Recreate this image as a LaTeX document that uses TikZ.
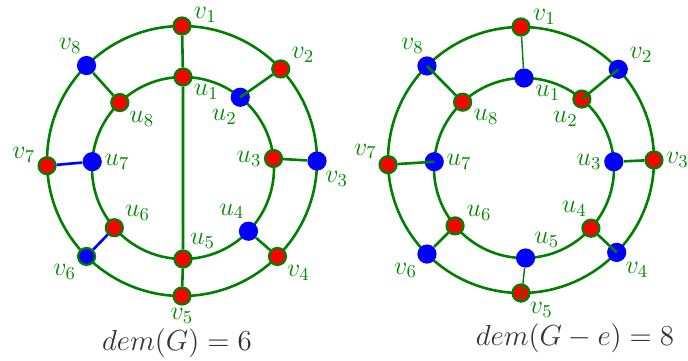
\RequirePackage{fix-cm}
\documentclass[tikz,border=0pt]{standalone}
\usepackage{amsmath}
\usetikzlibrary{calc}

\tikzset{
  rnode/.style={circle,fill=red,draw=green!50!black,line width=1.1pt,minimum size=8.5pt,inner sep=0pt},
  bnode/.style={circle,fill=blue,minimum size=9.6pt,inner sep=0pt},
  bgnode/.style={circle,fill=blue,draw=green!50!black,line width=1.1pt,minimum size=8.5pt,inner sep=0pt},
  lab/.style={text=green!55!black,font=\fontsize{13}{15}\selectfont,inner sep=1pt},
  ring/.style={draw=green!50!black,line width=1.3pt},
  gedge/.style={draw=green!50!black,line width=1.3pt},
  bedge/.style={draw=blue,line width=1.3pt},
  thinedge/.style={draw=green!50!black,line width=0.7pt},
  caption/.style={text=black!80,font=\fontsize{14.5}{17}\selectfont}
}

\begin{document}
\begin{tikzpicture}[x=0.5pt,y=-0.5pt,every label/.style={lab},label distance=0pt]
\useasboundingbox (0,0) rectangle (688,360);
% left graph G
\coordinate (cl) at (182,161);
\coordinate (cli) at (183,168);
\draw[ring] (cl) circle [radius=67.5pt];
\draw[ring] (cli) circle [radius=45.5pt];
\node[rnode,label={5:$v_1$}] (lv1) at ($(cl)+(-90:135)$) {};
\node[rnode,label={28:$v_2$}] (lv2) at ($(cl)+(-43:135)$) {};
\node[bnode,label={-53:$v_3$}] (lv3) at ($(cl)+(0:135)$) {};
\node[rnode,label={-41:$v_4$}] (lv4) at ($(cl)+(45:135)$) {};
\node[rnode,label={-90:$v_5$}] (lv5) at ($(cl)+(90:135)$) {};
\node[bgnode,label={-147:$v_6$}] (lv6) at ($(cl)+(135:135)$) {};
\node[rnode,label={175:$v_7$}] (lv7) at ($(cl)+(178:135)$) {};
\node[bnode,label={105:$v_8$}] (lv8) at ($(cl)+(225:135)$) {};
\node[rnode,label={-28:$u_1$}] (lu1) at ($(cli)+(-90:91)$) {};
\node[bnode,label={-96:$u_2$}] (lu2) at ($(cli)+(-51:91)$) {};
\node[rnode,label={180:$u_3$}] (lu3) at ($(cli)+(-6:91)$) {};
\node[bnode,label={100:$u_4$}] (lu4) at ($(cli)+(44:91)$) {};
\node[rnode,label={60:$u_5$}] (lu5) at ($(cli)+(90:91)$) {};
\node[rnode,label={29:$u_6$}] (lu6) at ($(cli)+(139:91)$) {};
\node[bnode,label={0:$u_7$}] (lu7) at ($(cli)+(184:91)$) {};
\node[rnode,label={-42:$u_8$}] (lu8) at ($(cli)+(226:91)$) {};
\draw[gedge] (lv1) -- (lu1) -- (lu5) -- (lv5);
\draw[gedge] (lv2) -- (lu2.center);
\draw[gedge] (lv3) -- (lu3);
\draw[gedge] (lv4) -- (lu4);
\draw[bedge] (lv6) -- (lu6);
\draw[bedge] (lv7) -- (lu7);
\draw[gedge] (lv8) -- (lu8);
\node[caption] (capl) at (177,343) {$dem(G)=6$};
% right graph G-e
\coordinate (cr) at (521,160);
\coordinate (cri) at (524,168);
\draw[ring] (cr) circle [radius=66.5pt];
\draw[ring] (cri) circle [radius=45pt];
\node[rnode,label={3:$v_1$}] (rv1) at ($(cr)+(-90:133)$) {};
\node[bnode,label={25:$v_2$}] (rv2) at ($(cr)+(-43:133)$) {};
\node[rnode,label={0:$v_3$}] (rv3) at ($(cr)+(0:133)$) {};
\node[bnode,label={-50:$v_4$}] (rv4) at ($(cr)+(44:133)$) {};
\node[rnode,label={-47:$v_5$}] (rv5) at ($(cr)+(90:133)$) {};
\node[bnode,label={-140:$v_6$}] (rv6) at ($(cr)+(135:133)$) {};
\node[rnode,label={160:$v_7$}] (rv7) at ($(cr)+(178:133)$) {};
\node[bnode,label={95:$v_8$}] (rv8) at ($(cr)+(225:133)$) {};
\node[bnode,label={-27:$u_1$}] (ru1) at ($(cri)+(-90:90)$) {};
\node[rnode,label={-100:$u_2$}] (ru2) at ($(cri)+(-50:90)$) {};
\node[bnode,label={180:$u_3$}] (ru3) at ($(cri)+(-4:90)$) {};
\node[rnode,label={100:$u_4$}] (ru4) at ($(cri)+(42:90)$) {};
\node[bnode,label={51:$u_5$}] (ru5) at ($(cri)+(89:90)$) {};
\node[rnode,label={19:$u_6$}] (ru6) at ($(cri)+(140:90)$) {};
\node[bnode,label={0:$u_7$}] (ru7) at ($(cri)+(184:90)$) {};
\node[rnode,label={-27:$u_8$}] (ru8) at ($(cri)+(227:90)$) {};
\draw[thinedge] (rv1) -- (ru1);
\draw[gedge] (rv2.center) -- (ru2.center);
\draw[gedge] (rv3) -- (ru3);
\draw[gedge] (rv4.center) -- (ru4);
\draw[thinedge] (ru5) -- (rv5.south);
\draw[gedge] (rv6) -- (ru6);
\draw[gedge] (rv7) -- (ru7.center);
\draw[gedge] (rv8.center) -- (ru8);
\node[caption] (capr) at (575,338) {$dem(G-e)=8$};
\end{tikzpicture}
\end{document}
